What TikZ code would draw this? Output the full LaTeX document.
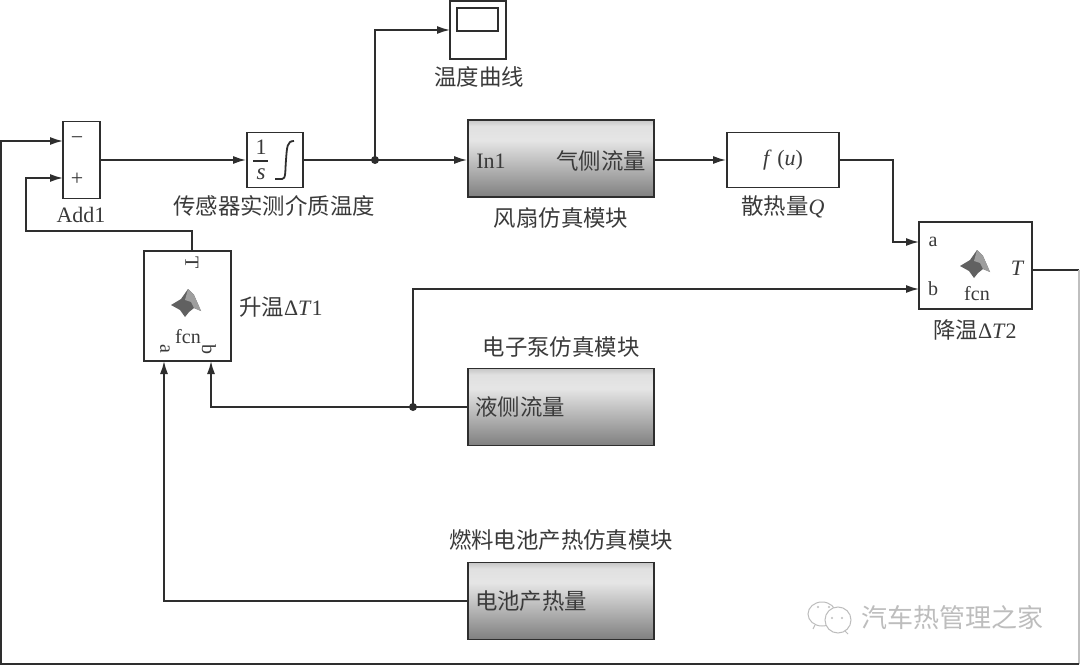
\documentclass[tikz,border=0pt]{standalone}
\usepackage{fontspec}
\setmainfont{Liberation Serif}
\newfontfamily\cjk{Noto Sans CJK SC}
\usetikzlibrary{arrows.meta}
\pgfdeclareverticalshading{blockshade}{100bp}{color(0bp)=(black!50); color(25bp)=(black!50); color(62bp)=(black!10); color(71bp)=(black!12); color(75bp)=(black!22); color(100bp)=(black!22)}
\definecolor{ink}{HTML}{2E2E2E}
\definecolor{txt}{HTML}{3A3A3A}
\definecolor{wmgray}{HTML}{BDBDBD}
\tikzset{
  plainblock/.style={draw=ink,line width=1.8pt,fill=white,inner sep=0pt,minimum width=#1},
  shadedblock/.style={draw=ink,line width=1.8pt,inner sep=0pt,shading=blockshade,minimum width=186,minimum height=77},
  wire/.style={draw=ink,line width=1.7pt},
  flow/.style={wire,-{Latex[length=13pt,width=8pt]}},
  dotnode/.style={circle,fill=ink,inner sep=0pt,minimum size=8pt},
  txtlabel/.style={text=txt,font=\fontsize{22}{24}\selectfont,inner sep=0pt},
  portlabel/.style={text=txt,font=\fontsize{20}{22}\selectfont,inner sep=0pt},
  cjklabel/.style={text=txt,font=\cjk\fontsize{22.4}{24}\selectfont,inner sep=0pt},
  logo/.pic={
    \fill[black!62] (-16,-1) -- (-6,-7) -- (1,-17) -- (7,-11) -- (14,5) -- (7,2) -- (2,6) -- (-2,11) -- (-7,4) -- cycle;
    \fill[black!38] (-2,-6) -- (1,-17) -- (7,-11) -- (14,5) -- (7,2) -- (4,-4) -- cycle;
  }
}
\begin{document}
\begin{tikzpicture}[x=1pt,y=-1pt]
\useasboundingbox (0,0) rectangle (1080,666);
\fill[white] (0,0) rectangle (1080,666);

% blocks
\node[plainblock=37,minimum height=77] (add) at (81.5,160) {};
\node[plainblock=56,minimum height=55] (integ) at (275,160) {};
\node[plainblock=56,minimum height=58] (scope) at (478,30) {};
\node[draw=ink,line width=1.5pt,minimum width=41,minimum height=23,inner sep=0pt] (screen) at (477.5,19.5) {};
\node[shadedblock] (fan) at (561,158.5) {};
\node[plainblock=112,minimum height=55] (fu) at (783,160) {};
\node[plainblock=113,minimum height=87] (cool) at (975.5,265.5) {};
\node[plainblock=87,minimum height=110] (heat) at (187.5,306) {};
\node[shadedblock] (pump) at (561,407) {};
\node[shadedblock] (batt) at (561,601) {};

% inside text
\node[txtlabel] (minus) at (77,141) {−};
\node[txtlabel] (plus) at (77,179) {+};
\node[txtlabel] (one) at (261,147) {1};
\node[txtlabel,font=\itshape\fontsize{23}{25}\selectfont] (ess) at (261,174) {s};
\draw[ink,line width=1.2pt] (253,161) -- (268,161);
\draw[ink,line width=1.8pt] (275,179) -- (282,179) .. controls (286,179) and (285,172) .. (286,160) .. controls (287,147) and (287,141) .. (294,141);
\node[txtlabel] (inone) at (491,161) {In1};
\node[cjklabel] (airflow) at (601,161) {气侧流量};
\node[txtlabel] (futext) at (783,160) {\textit{f} (\textit{u})};
\node[cjklabel] (liquid) at (520,407) {液侧流量};
\node[cjklabel] (heatgen) at (531,601) {电池产热量};

\node[portlabel] (coola) at (933,242) {a};
\node[portlabel] (coolb) at (933,289) {b};
\node[portlabel,font=\itshape\fontsize{22}{24}\selectfont] (coolt) at (1017,268) {T};
\node[portlabel] (coolf) at (977,294) {fcn};
\pic at (976,267) {logo};

\node[portlabel,rotate=-90] (heatt) at (192,263) {T};
\node[portlabel,rotate=-90] (heata) at (165,349) {a};
\node[portlabel,rotate=-90] (heatb) at (209,349) {b};
\node[portlabel] (heatf) at (188,337) {fcn};
\pic at (187,306) {logo};

% captions
\node[cjklabel] (cscope) at (479,77) {温度曲线};
\node[txtlabel] (cadd) at (81,215) {Add1};
\node[cjklabel] (cinteg) at (274,206) {传感器实测介质温度};
\node[cjklabel] (cfan) at (561,218) {风扇仿真模块};
\node[txtlabel] (cfu) at (783,207) {{\cjk\fontsize{22.4}{24}\selectfont 散热量}\textit{Q}};
\node[txtlabel] (ccool) at (975,330) {{\cjk\fontsize{22.4}{24}\selectfont 降温}Δ\textit{T}2};
\node[txtlabel] (cheat) at (281,307) {{\cjk\fontsize{22.4}{24}\selectfont 升温}Δ\textit{T}1};
\node[cjklabel] (cpump) at (561,347) {电子泵仿真模块};
\node[cjklabel] (cbatt) at (561,540) {燃料电池产热仿真模块};

% ports and bends
\coordinate (addm) at (63,141);
\coordinate (addp) at (63,178);
\coordinate (cta) at (919,242);
\coordinate (ctb) at (919,289);
\coordinate (cto) at (1032,270);
\coordinate (hta) at (164,361);
\coordinate (htb) at (211,361);
\coordinate (hto) at (192,251);
\coordinate (jsense) at (375,160);
\coordinate (jpump) at (413,407);
\coordinate (pin) at (450,30);
\coordinate (corner1) at (1079,664);
\coordinate (corner2) at (1,664);

% connectors
\draw[flow] (add.east |- integ.west) -- (integ.west);
\draw[wire] (integ.east) -- (jsense);
\draw[flow] (jsense) -- (fan.west |- jsense);
\draw[flow] (jsense) |- (pin);
\draw[flow] (fan.east |- fu.west) -- (fu.west);
\draw[flow] (fu.east) -| (893,242) -- (cta);
\draw[wire] (cto) -- (cto -| corner1);
\draw[wire,draw=black!25] (cto -| corner1) -- (corner1);
\draw[flow] (corner1) -- (corner2) |- (addm);
\draw[flow] (hto) |- (26,231) |- (addp);
\draw[flow] (pump.west) -- (jpump) -| (htb);
\draw[flow] (jpump) |- (ctb);
\draw[flow] (batt.west) -| (hta);
\node[dotnode] (dsense) at (jsense) {};
\node[dotnode] (dpump) at (jpump) {};

% watermark
\node[text=wmgray,font=\cjk\fontsize{26}{28}\selectfont,inner sep=0pt] (wm) at (952,618) {汽车热管理之家};
\draw[wmgray,line width=1pt,fill=white] (822,614) circle[x radius=14,y radius=12];
\draw[wmgray,line width=1pt,fill=white] (838,620) circle[x radius=13,y radius=13];
\draw[wmgray,line width=1pt] (815,625) -- (813,629);
\draw[wmgray,line width=1pt] (845,631) -- (848,634);
\fill[wmgray] (818,607) circle[radius=1.2] (829,607) circle[radius=1.2] (832,618) circle[radius=1.2] (842,618) circle[radius=1.2];
\end{tikzpicture}
\end{document}
